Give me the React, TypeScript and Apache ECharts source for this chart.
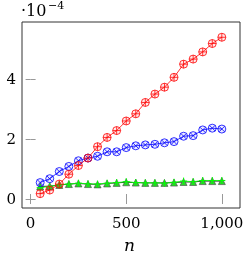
import React, { useEffect, useRef } from "react";
import * as echarts from "echarts";

const nValues = [50, 100, 150, 200, 250, 300, 350, 400, 450, 500, 550, 600, 650, 700, 750, 800, 850, 900, 950, 1000];
const redSeries = [0.18, 0.3, 0.5, 0.83, 1.12, 1.37, 1.75, 2.06, 2.29, 2.61, 2.85, 3.23, 3.51, 3.74, 4.07, 4.51, 4.68, 4.92, 5.2, 5.41];
const blueSeries = [0.55, 0.68, 0.92, 1.09, 1.28, 1.37, 1.43, 1.58, 1.58, 1.72, 1.78, 1.81, 1.83, 1.88, 1.92, 2.1, 2.12, 2.31, 2.37, 2.34];
const blackSeries = [0.42, 0.43, 0.47, 0.5, 0.52, 0.5, 0.49, 0.52, 0.54, 0.56, 0.55, 0.54, 0.54, 0.54, 0.55, 0.57, 0.57, 0.6, 0.6, 0.6];
const greenSeries = [0.38, 0.42, 0.48, 0.5, 0.53, 0.51, 0.5, 0.53, 0.55, 0.58, 0.55, 0.54, 0.54, 0.53, 0.56, 0.6, 0.58, 0.62, 0.62, 0.62];
const xTicks = [0, 500, 1000];
const yTicks = [0, 2, 4];

const oplus = "path://M0,-10A10,10,0,1,1,0,10A10,10,0,1,1,0,-10ZM-10,0L10,0M0,-10L0,10";
const otimes = "path://M0,-10A10,10,0,1,1,0,10A10,10,0,1,1,0,-10ZM-7.07,-7.07L7.07,7.07M7.07,-7.07L-7.07,7.07";
const plus = "path://M-10,0L10,0M0,-10L0,10";

const FONT = "DejaVu Serif";

function pair(ys: number[]) {
  return nValues.map((x, i) => [x, ys[i]]);
}

export default function App() {
  const ref = useRef<HTMLDivElement>(null);
  useEffect(() => {
    if (!ref.current) return;
    const chart = echarts.init(ref.current, null, { renderer: "svg" });
    const tickStyle = { show: true, inside: true, length: 5, lineStyle: { color: "#999", width: 1 } };
    chart.setOption({
      animation: false,
      textStyle: { fontFamily: FONT },
      grid: { left: 22, right: 10, top: 22, bottom: 51, show: true, borderColor: "#333", borderWidth: 1, backgroundColor: "transparent" },
      xAxis: [
        {
          type: "value", min: -45, max: 1095, position: "bottom",
          axisLine: { show: false }, splitLine: { show: false },
          axisTick: { ...tickStyle, customValues: xTicks },
          axisLabel: {
            customValues: xTicks, margin: 7, color: "#000", fontFamily: FONT, fontSize: 15,
            formatter: (v: number) => (v >= 1000 ? v.toLocaleString("en-US") : String(v)),
          },
        },
        {
          type: "value", min: -45, max: 1095, position: "top",
          axisLine: { show: false }, splitLine: { show: false },
          axisTick: { ...tickStyle, customValues: xTicks },
          axisLabel: { show: false },
        },
      ],
      yAxis: [
        {
          type: "value", min: -0.3, max: 5.92, position: "left",
          axisLine: { show: false }, splitLine: { show: false },
          axisTick: { ...tickStyle, customValues: yTicks },
          axisLabel: { customValues: yTicks, margin: 6, color: "#000", fontFamily: FONT, fontSize: 15 },
        },
        {
          type: "value", min: -0.3, max: 5.92, position: "right",
          axisLine: { show: false }, splitLine: { show: false },
          axisTick: { ...tickStyle, customValues: yTicks },
          axisLabel: { show: false },
        },
      ],
      series: [
        {
          type: "line", data: pair(blackSeries), symbol: "triangle", symbolSize: 7,
          lineStyle: { color: "#000", width: 0.8 },
          itemStyle: { color: "#33cc33", borderColor: "#444", borderWidth: 0.6 },
        },
        {
          type: "line", data: pair(greenSeries), symbol: plus, symbolSize: 7,
          lineStyle: { color: "#00ff00", width: 0.8 },
          itemStyle: { color: "transparent", borderColor: "#00ff00", borderWidth: 1 },
        },
        {
          type: "line", data: pair(blueSeries), symbol: otimes, symbolSize: 8,
          lineStyle: { color: "#0000ff", width: 0.8 },
          itemStyle: { color: "rgba(0,0,255,0.08)", borderColor: "#0000ff", borderWidth: 0.8 },
        },
        {
          type: "line", data: pair(redSeries), symbol: oplus, symbolSize: 8,
          lineStyle: { color: "#ff0000", width: 0.8 },
          itemStyle: { color: "rgba(255,0,0,0.08)", borderColor: "#ff0000", borderWidth: 0.8 },
        },
      ],
      graphic: [
        { type: "text", left: 21, top: 2, style: { text: "·10", fontFamily: FONT, fontSize: 16, fill: "#000" } },
        { type: "text", left: 48, top: 0, style: { text: "−4", fontFamily: FONT, fontSize: 11, fill: "#000" } },
        { type: "text", left: 124, top: 236, style: { text: "n", fontFamily: FONT, fontStyle: "italic", fontSize: 17, fill: "#000" } },
      ],
    });
    return () => chart.dispose();
  }, []);
  return <div ref={ref} style={{ position: "fixed", left: 0, top: 0, width: 250, height: 259 }} />;
}
